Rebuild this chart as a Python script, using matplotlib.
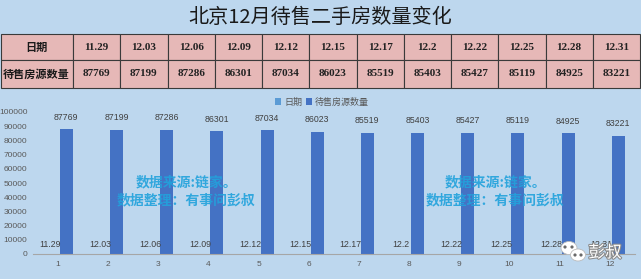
import matplotlib
matplotlib.use("Agg")
import matplotlib.pyplot as plt
import numpy as np
from matplotlib.patches import Rectangle, Ellipse
import matplotlib.patheffects as pe

plt.rcParams['font.family'] = ['Noto Sans CJK SC', 'DejaVu Sans']

# data
title = "北京12月待售二手房数量变化"
dates = ["11.29", "12.03", "12.06", "12.09", "12.12", "12.15",
         "12.17", "12.2", "12.22", "12.25", "12.28", "12.31"]
listings = [87769, 87199, 87286, 86301, 87034, 86023,
            85519, 85403, 85427, 85119, 84925, 83221]
row_names = ["日期", "待售房源数量"]
series_names = ["日期", "待售房源数量"]
watermark = ["数据来源:链家。", "数据整理：有事问彭叔"]

W, H = 641, 279
BG = "#BDD7EE"
PINK = "#E6B8B7"
C1 = "#5B9BD5"
C2 = "#4472C4"
GREY = "#595959"
NUMFONT = ["Liberation Sans", "Noto Sans CJK SC"]

fig = plt.figure(figsize=(W / 100, H / 100), dpi=100)
fig.patch.set_facecolor(BG)

# overlay in pixel coords for the header table
ov = fig.add_axes([0, 0, 1, 1])
ov.set_xlim(0, W)
ov.set_ylim(H, 0)
ov.axis("off")
ov.set_zorder(0)

ov.text(W / 2, 17, title, ha="center", va="center", fontsize=14.5, color="#1a1a1a")

# table
first_w = 73
col_w = (640 - first_w) / len(dates)
row_y = [34, 60, 88]
for r in range(2):
    y0, y1 = row_y[r], row_y[r + 1]
    ov.add_patch(Rectangle((0.5, y0), first_w - 0.5, y1 - y0, facecolor=PINK,
                           edgecolor="#3a3a3a", lw=0.8))
    ov.text(first_w / 2, (y0 + y1) / 2, row_names[r], ha="center", va="center",
            fontsize=8, fontweight="bold", color="#1a1a1a")
    cells = dates if r == 0 else [str(v) for v in listings]
    for i, s in enumerate(cells):
        x0 = first_w + i * col_w
        ov.add_patch(Rectangle((x0, y0), col_w, y1 - y0, facecolor=PINK,
                               edgecolor="#3a3a3a", lw=0.8))
        ov.text(x0 + col_w / 2, (y0 + y1) / 2, s, ha="center", va="center",
                fontsize=8, fontweight="bold", color="#222222",
                family=["Liberation Serif", "Noto Sans CJK SC"])

# bar chart
ax = fig.add_axes([33 / W, (H - 254) / H, (635 - 33) / W, (254 - 112) / H])
ax.set_facecolor("none")
ax.set_zorder(1)
x = np.arange(1, len(dates) + 1)
vals1 = [float(d) for d in dates]
bw = 0.26
b1 = ax.bar(x - 0.165, vals1, bw, color=C1, label=series_names[0])
b2 = ax.bar(x + 0.165, listings, bw, color=C2, label=series_names[1])
for xi, d in zip(x, dates):
    ax.text(xi - 0.165, 3500, d, ha="center", va="bottom", fontsize=6.3,
            color="#404040", family=NUMFONT)
for xi, v in zip(x, listings):
    ax.text(xi + 0.165, v + 5500, str(v), ha="center", va="bottom", fontsize=6.3,
            color="#404040", family=NUMFONT)

ax.set_xlim(0.5, len(dates) + 0.5)
ax.set_ylim(0, 100000)
ax.set_yticks(np.arange(0, 100001, 10000))
ax.set_xticks(x)
ax.tick_params(axis="both", length=0, labelsize=6, labelcolor=GREY)
ax.tick_params(axis="x", pad=5)
ax.tick_params(axis="y", pad=4)
for lab in ax.get_xticklabels() + ax.get_yticklabels():
    lab.set_family(NUMFONT)
for s in ["top", "right", "left"]:
    ax.spines[s].set_visible(False)
ax.spines["bottom"].set_color("#A6A6A6")
ax.spines["bottom"].set_linewidth(0.8)

fig.legend(handles=[b1, b2], loc="center", bbox_to_anchor=(322 / W, 1 - 102 / H),
           ncol=2, frameon=False, fontsize=6.5, labelcolor=GREY,
           handlelength=0.7, handleheight=0.7, handletextpad=0.3, columnspacing=0.4)

# watermarks
top = fig.add_axes([0, 0, 1, 1])
top.set_xlim(0, W)
top.set_ylim(H, 0)
top.axis("off")
top.set_zorder(3)
for cx in [186, 495]:
    top.text(cx, 182, watermark[0], ha="center", va="center", fontsize=10,
             fontweight="bold", color="#22A2DC", alpha=0.9)
    top.text(cx, 200, watermark[1], ha="center", va="center", fontsize=10,
             fontweight="bold", color="#22A2DC", alpha=0.9)

# wechat-style badge
top.add_patch(Ellipse((569, 248), 16, 13, facecolor="white", edgecolor="#BBBBBB", lw=0.6))
top.add_patch(Ellipse((578, 255), 15, 12, facecolor="white", edgecolor="#BBBBBB", lw=0.6))
for px, py in [(565, 247), (572, 247), (575, 255), (581, 255)]:
    top.add_patch(Ellipse((px, py), 1.8, 1.8, color="#6a6a6a"))
top.text(605, 253, "彭叔", ha="center", va="center", fontsize=12, color="white",
         path_effects=[pe.withStroke(linewidth=1.5, foreground="#8a8a8a")])

fig.savefig("out.png", dpi=100, facecolor=BG)
